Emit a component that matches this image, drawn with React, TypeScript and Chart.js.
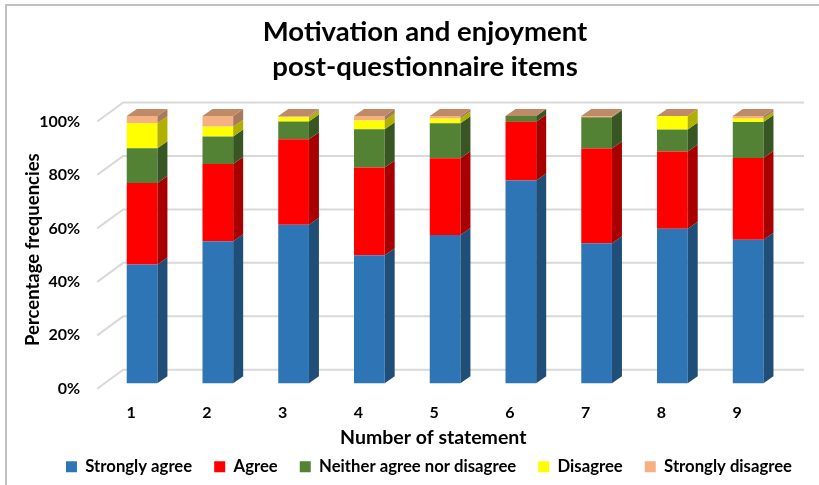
import React, { useEffect, useRef } from "react";
import { Chart, registerables } from "chart.js";

Chart.register(...registerables);

const statements = ["1", "2", "3", "4", "5", "6", "7", "8", "9"];
const stronglyAgree = [44.4, 53.1, 59.3, 47.9, 55.5, 75.9, 52.4, 57.8, 53.7];
const agree = [30.5, 28.9, 32.0, 32.8, 28.7, 21.9, 35.4, 28.9, 30.6];
const neither = [13.0, 10.3, 6.6, 14.3, 13.1, 2.2, 11.7, 8.2, 13.4];
const disagree = [9.4, 3.7, 1.6, 3.3, 1.7, 0, 0, 5.1, 1.3];
const stronglyDisagree = [2.7, 4.0, 0.5, 1.7, 1.0, 0, 0.5, 0, 1.0];
const yTicks = [0, 20, 40, 60, 80, 100];

const seriesNames = ["Strongly agree", "Agree", "Neither agree nor disagree", "Disagree", "Strongly disagree"];
const frontColors = ["#2e75b6", "#ff0000", "#548235", "#ffff00", "#f4b183"];
const sideColors = ["#1f4e79", "#a80000", "#375623", "#b0b000", "#a87a5c"];
const topColor = "#bf8a68";

const DX = 10;
const DY = -7;

const depthPlugin = {
  id: "depth3d",
  afterLayout(chart: any) {
    if (chart.titleBlock) {
      chart.titleBlock.left += 25;
      chart.titleBlock.right += 25;
    }
    if (chart.legend) {
      chart.legend.left += 29;
      chart.legend.right += 29;
    }
  },
  beforeDatasetsDraw(chart: any) {
    const { ctx, chartArea, scales } = chart;
    const y = scales.y;
    ctx.save();
    ctx.strokeStyle = "#d9d9d9";
    ctx.lineWidth = 2;
    y.ticks.forEach((t: any) => {
      const py = y.getPixelForValue(t.value);
      ctx.beginPath();
      ctx.moveTo(chartArea.left - 7, py + 5.5);
      ctx.lineTo(chartArea.left + 19, py - 13.5);
      ctx.lineTo(chartArea.right + 18, py - 13.5);
      ctx.stroke();
    });
    ctx.restore();
  },
  afterDatasetsDraw(chart: any) {
    const { ctx } = chart;
    const n = chart.data.datasets.length;
    ctx.save();
    chart.data.datasets.forEach((_ds: any, i: number) => {
      const meta = chart.getDatasetMeta(i);
      meta.data.forEach((bar: any) => {
        const { x, y, base, width } = bar.getProps(["x", "y", "base", "width"], true);
        const top = Math.min(y, base);
        const bottom = Math.max(y, base);
        const l = x - width / 2;
        const r = x + width / 2;
        if (bottom - top > 0.01) {
          ctx.fillStyle = sideColors[i];
          ctx.beginPath();
          ctx.moveTo(r, top);
          ctx.lineTo(r + DX, top + DY);
          ctx.lineTo(r + DX, bottom + DY);
          ctx.lineTo(r, bottom);
          ctx.closePath();
          ctx.fill();
        }
        if (i === n - 1) {
          ctx.fillStyle = topColor;
          ctx.beginPath();
          ctx.moveTo(l, top);
          ctx.lineTo(l + DX, top + DY);
          ctx.lineTo(r + DX, top + DY);
          ctx.lineTo(r, top);
          ctx.closePath();
          ctx.fill();
        }
      });
    });
    ctx.restore();
  },
};

export default function App() {
  const ref = useRef<HTMLCanvasElement | null>(null);

  useEffect(() => {
    if (!ref.current) return;
    Chart.defaults.font.family = "Lato";
    const seriesValues = [stronglyAgree, agree, neither, disagree, stronglyDisagree];
    const chart = new Chart(ref.current, {
      type: "bar",
      data: {
        labels: statements,
        datasets: seriesNames.map((name, i) => ({
          label: name,
          data: seriesValues[i],
          backgroundColor: frontColors[i],
          borderWidth: 0,
          barPercentage: 0.405,
          categoryPercentage: 1,
          clip: false as any,
        })),
      },
      options: {
        responsive: false,
        animation: false,
        devicePixelRatio: 1,
        layout: { padding: { top: 5, left: 14, right: 33, bottom: 0 } },
        plugins: {
          title: {
            display: true,
            text: ["Motivation and enjoyment", "post-questionnaire items"],
            color: "#000",
            font: { family: "Lato", size: 27.5, weight: "bold", lineHeight: 1.27 },
            padding: { top: 9.5, bottom: 31.6 },
          },
          legend: {
            position: "bottom",
            labels: {
              color: "#000",
              font: { family: "Lato", size: 16.7, weight: "bold" },
              boxWidth: 11,
              boxHeight: 11,
              padding: 22,
            },
          },
          tooltip: { enabled: false },
        },
        scales: {
          x: {
            stacked: true,
            grid: { display: false, drawTicks: false },
            border: { display: false },
            ticks: {
              color: "#000",
              font: { family: "Lato", size: 16, weight: "bold" },
              padding: 20,
              labelOffset: -11,
              maxRotation: 0,
            },
            title: {
              display: true,
              text: "Number of statement     ",
              color: "#000",
              font: { family: "Lato", size: 19.5, weight: "bold" },
              padding: { top: 0, bottom: -13.2 },
            },
            afterFit: (scale: any) => {
              scale.height = 53;
            },
          },
          y: {
            stacked: true,
            min: 0,
            max: 100,
            grid: { display: false, drawTicks: false },
            border: { display: false },
            afterBuildTicks: (scale: any) => {
              scale.ticks = yTicks.map((v) => ({ value: v }));
            },
            ticks: {
              color: "#000",
              font: { family: "Lato", size: 16, weight: "bold" },
              padding: 24,
              labelOffset: 5.5,
              callback: (v: any) => v + "%",
            },
            title: {
              display: true,
              text: "Percentage frequencies",
              color: "#000",
              font: { family: "Lato", size: 18.5, weight: "bold" },
              padding: { top: 7.9, bottom: 0 },
            },
            afterFit: (scale: any) => {
              scale.width = 90.2;
            },
          },
        },
      },
      plugins: [depthPlugin],
    });
    return () => chart.destroy();
  }, []);

  return (
    <div style={{ position: "fixed", left: 0, top: 0, width: 819, height: 485, background: "#fff" }}>
      <div
        style={{
          position: "absolute",
          left: 5,
          top: 4,
          width: 830,
          height: 500,
          borderLeft: "2px solid #c0c0c0",
          borderTop: "2px solid #c0c0c0",
        }}
      />
      <canvas ref={ref} width={819} height={485} style={{ position: "absolute", left: 0, top: 0, width: 819, height: 485 }} />
    </div>
  );
}
